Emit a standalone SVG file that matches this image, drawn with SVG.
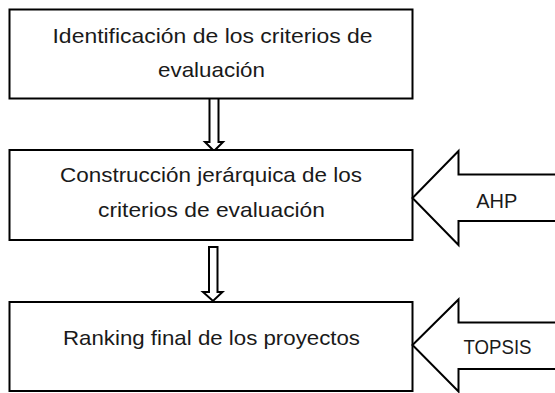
<svg xmlns="http://www.w3.org/2000/svg" width="555" height="393" viewBox="0 0 555 393">
<style>
.box{fill:#fff;stroke:#000;stroke-width:2}
.arr{fill:#fff;stroke:#000;stroke-width:2;stroke-linejoin:miter}
.t{font-family:"Liberation Sans",Arial,sans-serif;font-size:21px;fill:#1a1a1a;text-anchor:middle}
.s{font-family:"Liberation Sans",Arial,sans-serif;font-size:20px;fill:#1a1a1a;text-anchor:middle}
</style>
<rect width="555" height="393" fill="#fff"/>
<g id="connectors">
<polygon class="arr" points="209.5,98 218.5,98 218.5,142 223,142 214,151 205,142 209.5,142"/>
<polygon class="arr" points="209,247 217.5,247 217.5,292 222.5,292 213,301 203,292 209,292"/>
</g>
<g id="n1"><rect class="box" x="9.5" y="9.5" width="403" height="89"/>
<text class="t" x="212.5" y="42.5" textLength="320" lengthAdjust="spacingAndGlyphs">Identificación de los criterios de</text>
<text class="t" x="211.5" y="76.5" textLength="107" lengthAdjust="spacingAndGlyphs">evaluación</text></g>
<g id="n2"><rect class="box" x="9.5" y="150" width="403" height="90"/>
<text class="t" x="211" y="181.5" textLength="302" lengthAdjust="spacingAndGlyphs">Construcción jerárquica de los</text>
<text class="t" x="211.5" y="216.5" textLength="227" lengthAdjust="spacingAndGlyphs">criterios de evaluación</text></g>
<g id="n3"><rect class="box" x="9.5" y="302" width="403" height="89"/>
<text class="t" x="211.5" y="345" textLength="297" lengthAdjust="spacingAndGlyphs">Ranking final de los proyectos</text></g>
<g id="ahp"><polygon class="arr" points="556,174.5 458.5,174.5 458.5,151 412.5,198 458.5,245 458.5,221 556,221"/>
<text class="s" x="496.7" y="207.7">AHP</text></g>
<g id="topsis"><polygon class="arr" points="556,322.5 458.5,322.5 458.5,299.5 412.5,345 458.5,391.5 458.5,369 556,369"/>
<text class="t" x="497.5" y="354.3" textLength="68" lengthAdjust="spacingAndGlyphs">TOPSIS</text></g>
</svg>
